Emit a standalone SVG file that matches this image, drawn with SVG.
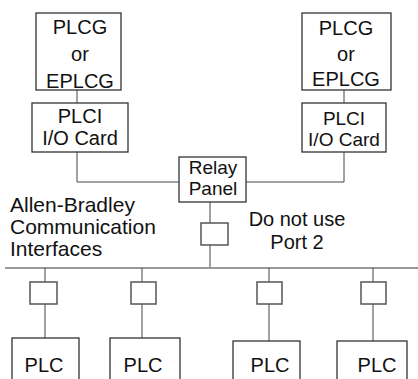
<svg xmlns="http://www.w3.org/2000/svg" width="418" height="379" viewBox="0 0 418 379">
<style>
.box{fill:#fff;stroke:#333;stroke-width:1.3}
.sm{fill:#fff;stroke:#555;stroke-width:1.5}
.ln{fill:none;stroke:#444;stroke-width:1}
.bus{fill:none;stroke:#999;stroke-width:2}
text{font-family:"Liberation Sans",Arial,sans-serif;font-size:20px;fill:#111}
.c{text-anchor:middle}
.t{font-size:19px}
</style>
<rect width="418" height="379" fill="#fff"/>
<g id="connectors">
<line class="ln" x1="77" y1="90" x2="77" y2="103"/>
<line class="ln" x1="344" y1="90" x2="344" y2="103"/>
<polyline class="ln" points="77,152 77,182 179,182"/>
<polyline class="ln" points="344,152 344,182 246,182"/>
<line class="ln" x1="210" y1="202" x2="210" y2="223"/>
<line class="ln" x1="210" y1="245" x2="210" y2="268"/>
<line class="bus" x1="5" y1="268" x2="418" y2="268"/>
<line class="ln" x1="45" y1="268" x2="45" y2="282"/>
<line class="ln" x1="45" y1="304" x2="45" y2="338"/>
<line class="ln" x1="142" y1="268" x2="142" y2="282"/>
<line class="ln" x1="142" y1="304" x2="142" y2="338"/>
<line class="ln" x1="269" y1="268" x2="269" y2="282"/>
<line class="ln" x1="269" y1="304" x2="269" y2="341"/>
<line class="ln" x1="373" y1="268" x2="373" y2="282"/>
<line class="ln" x1="373" y1="304" x2="373" y2="341"/>
</g>
<g id="plcg-left">
<rect class="box" x="36" y="13" width="85" height="77"/>
<text class="c" x="80" y="34">PLCG</text>
<text class="c" x="80" y="61">or</text>
<text class="c" x="80" y="88">EPLCG</text>
</g>
<g id="plcg-right">
<rect class="box" x="302" y="13" width="89" height="77"/>
<text class="c" x="346" y="35">PLCG</text>
<text class="c" x="346" y="61">or</text>
<text class="c" x="346" y="86">EPLCG</text>
</g>
<g id="plci-left">
<rect class="box" x="32" y="103" width="96" height="49"/>
<text class="c" x="80" y="123">PLCI</text>
<text class="c" x="80" y="145">I/O Card</text>
</g>
<g id="plci-right">
<rect class="box" x="302" y="103" width="84" height="49"/>
<text class="c t" x="344" y="125">PLCI</text>
<text class="c t" x="344" y="146">I/O Card</text>
</g>
<g id="relay-panel">
<rect class="box" x="179" y="157" width="67" height="45"/>
<text class="c t" x="213" y="174">Relay</text>
<text class="c t" x="213" y="195">Panel</text>
</g>
<g id="port-relay"><rect class="sm" x="201" y="223" width="27" height="22"/></g>
<g id="port-1"><rect class="sm" x="30" y="282" width="27" height="22"/></g>
<g id="port-2"><rect class="sm" x="131" y="282" width="25" height="22"/></g>
<g id="port-3"><rect class="sm" x="257" y="282" width="25" height="22"/></g>
<g id="port-4"><rect class="sm" x="361" y="282" width="25" height="22"/></g>
<g id="plc-1"><rect class="box" x="12" y="338" width="67" height="50"/><text class="c" x="44" y="372">PLC</text></g>
<g id="plc-2"><rect class="box" x="110" y="338" width="70" height="50"/><text class="c" x="143" y="372">PLC</text></g>
<g id="plc-3"><rect class="box" x="233" y="341" width="67" height="50"/><text class="c" x="270" y="372">PLC</text></g>
<g id="plc-4"><rect class="box" x="337" y="341" width="70" height="50"/><text class="c" x="377" y="372">PLC</text></g>
<g id="labels">
<text x="10" y="212" style="font-size:21px">Allen-Bradley</text>
<text x="10" y="234" style="font-size:21px">Communication</text>
<text x="10" y="256" style="font-size:21px">Interfaces</text>
<text class="c" x="297" y="226">Do not use</text>
<text class="c" x="297" y="249">Port 2</text>
</g>
</svg>
